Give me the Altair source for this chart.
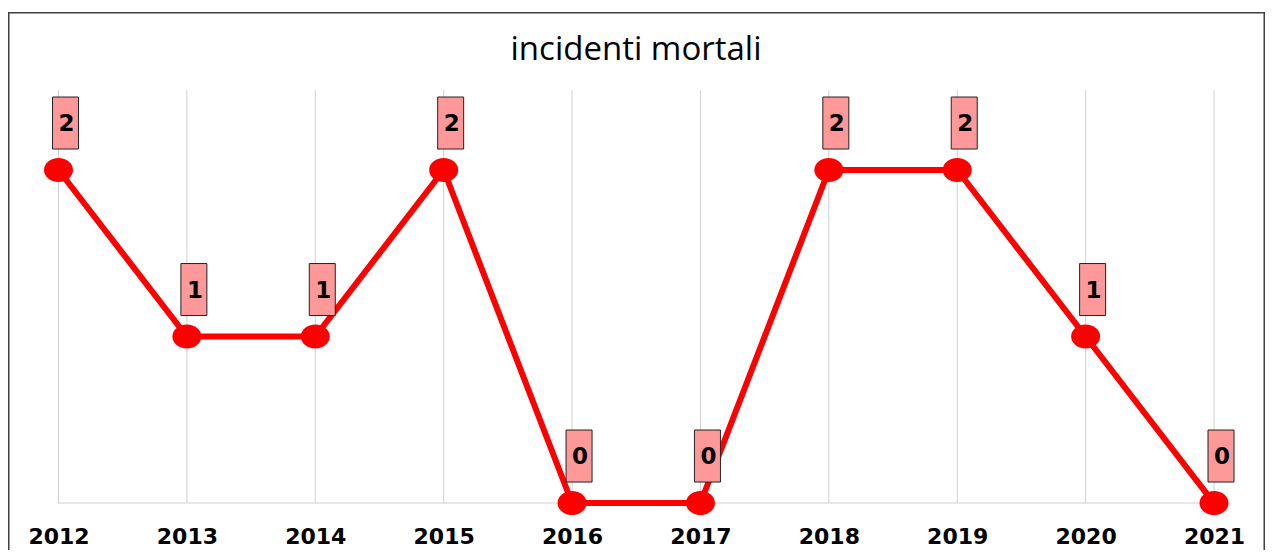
import altair as alt
import pandas as pd

TITLE = "incidenti mortali"
years = [2012, 2013, 2014, 2015, 2016, 2017, 2018, 2019, 2020, 2021]
deaths = [2, 1, 1, 2, 0, 0, 2, 2, 1, 0]

GRID_TOP = 2.48
W, H = 1257, 538

df = pd.DataFrame({"year": years, "value": deaths})
grid_df = pd.DataFrame({"year": years, "lo": [0] * len(years), "hi": [GRID_TOP] * len(years)})
base_df = pd.DataFrame({"x1": [years[0]], "x2": [years[-1]], "y": [0]})
title_df = pd.DataFrame({"t": [TITLE]})

xscale = alt.Scale(domain=[2011.6067, 2021.3972], nice=False, zero=False)
yscale = alt.Scale(domain=[-0.282, 2.949], nice=False, zero=False)

xaxis = alt.Axis(
    values=years, format="d", title=None, domain=False, ticks=False, grid=False,
    labelFont="DejaVu Sans", labelFontWeight="bold", labelFontSize=22,
    labelColor="#000000", labelBaseline="alphabetic", labelPadding=0, offset=-7,
    labelFlush=False, labelOverlap=False,
)

grid = alt.Chart(grid_df).mark_rule(color="#d0d0d0", strokeWidth=1).encode(
    x=alt.X("year:Q", scale=xscale, axis=xaxis),
    y=alt.Y("lo:Q", scale=yscale, axis=None),
    y2="hi:Q",
)

baseline = alt.Chart(base_df).mark_rule(color="#d0d0d0", strokeWidth=1).encode(
    x=alt.X("x1:Q", scale=xscale), x2="x2:Q",
    y=alt.Y("y:Q", scale=yscale),
)

line = alt.Chart(df).mark_line(color="#ff0000", strokeWidth=6).encode(
    x=alt.X("year:Q", scale=xscale),
    y=alt.Y("value:Q", scale=yscale),
)

ellipse = "M -1 0 A 1 0.83 0 1 0 1 0 A 1 0.83 0 1 0 -1 0 Z"
points = alt.Chart(df).mark_point(
    shape=ellipse, size=841, filled=True, color="#ff0000", opacity=1
).encode(
    x=alt.X("year:Q", scale=xscale),
    y=alt.Y("value:Q", scale=yscale),
)

box = "M -0.5 -1 H 0.5 V 1 H -0.5 Z"
boxes = alt.Chart(df).mark_point(
    shape=box, size=2704, filled=True, fill="#ff9999", stroke="#222222",
    strokeWidth=1, opacity=1, fillOpacity=1, xOffset=7, yOffset=-47,
).encode(
    x=alt.X("year:Q", scale=xscale),
    y=alt.Y("value:Q", scale=yscale),
)

labels = alt.Chart(df).mark_text(
    font="DejaVu Sans", fontWeight="bold", fontSize=23, color="#000000",
    align="center", baseline="middle", dx=8, dy=-46,
).encode(
    x=alt.X("year:Q", scale=xscale),
    y=alt.Y("value:Q", scale=yscale),
    text=alt.Text("value:Q"),
)

title = alt.Chart(title_df).mark_text(
    font="Open Sans", fontSize=33, color="#000000", align="center", baseline="alphabetic"
).encode(text="t:N", x=alt.value(628), y=alt.value(48))

border_col = "#404040"
b_top = alt.Chart(title_df).mark_rule(color=border_col, strokeWidth=1.5).encode(
    x=alt.value(0), x2=alt.value(W - 0.75), y=alt.value(0.75))
b_left = alt.Chart(title_df).mark_rule(color=border_col, strokeWidth=1.5).encode(
    x=alt.value(0.75), y=alt.value(0), y2=alt.value(H + 10))
b_right = alt.Chart(title_df).mark_rule(color=border_col, strokeWidth=1.5).encode(
    x=alt.value(W - 0.75), y=alt.value(0), y2=alt.value(H + 10))

chart = alt.layer(
    grid, baseline, line, points, boxes, labels, title, b_top, b_left, b_right
).properties(
    width=W, height=H,
    autosize=alt.AutoSizeParams(type="none"),
    padding={"left": 0, "top": 4, "right": 0, "bottom": 0},
).configure_view(stroke=None).configure(background="white")

chart.save("out.html", embed_options={"renderer": "svg", "actions": False})
